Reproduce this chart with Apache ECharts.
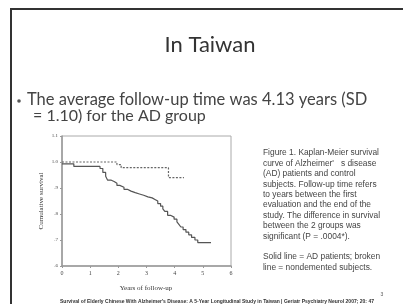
<!DOCTYPE html>
<html><head><meta charset="utf-8">
<script src="https://cdn.jsdelivr.net/npm/echarts@6/dist/echarts.min.js"></script>
<style>html,body{margin:0;padding:0;background:#fff}#c{width:403px;height:304px}</style>
</head><body><div id="c"></div>
<script>
// AD patients (solid) step times and cumulative survival
const adTimes = [0, 0.42, 1.35, 1.45, 1.55, 1.62, 1.75, 1.85, 1.95, 2.05, 2.2, 2.32, 2.45, 2.6, 2.75, 2.9, 3.05, 3.2, 3.3, 3.4, 3.5, 3.58, 3.65, 3.75, 3.85, 3.98, 4.08, 4.15, 4.22, 4.3, 4.4, 4.5, 4.6, 4.72, 4.82, 5.29];
const adSurv  = [0.993, 0.983, 0.975, 0.96, 0.945, 0.93, 0.925, 0.918, 0.91, 0.903, 0.895, 0.888, 0.882, 0.877, 0.872, 0.866, 0.862, 0.856, 0.85, 0.84, 0.83, 0.82, 0.81, 0.795, 0.788, 0.78, 0.77, 0.76, 0.75, 0.74, 0.73, 0.72, 0.71, 0.70, 0.69, 0.69];
// Nondemented subjects (broken)
const ctlTimes = [0, 1.95, 2.1, 3.78, 4.33];
const ctlSurv  = [1.0, 0.99, 0.978, 0.94, 0.94];
const yTickLabels = {'0.6': '.6', '0.7': '.7', '0.8': '.8', '0.9': '.9', '1': '1.0', '1.1': '1.1'};
const xTicks = [0, 1, 2, 3, 4, 5, 6];

const title = 'In Taiwan';
const bullet1 = 'The average follow-up time was 4.13 years (SD';
const bullet2 = '= 1.10) for the AD group';
const captionLines = [
  'Figure 1. Kaplan-Meier survival',
  "curve of Alzheimer'   s disease",
  '(AD) patients and control',
  'subjects. Follow-up time refers',
  'to years between the first',
  'evaluation and the end of the',
  'study. The difference in survival',
  'between the 2 groups was',
  'significant (P = .0004*).',
  '',
  'Solid line = AD patients; broken',
  'line = nondemented subjects.'
];
const citation = "Survival of Elderly Chinese With Alzheimer's Disease: A 5-Year Longitudinal Study in Taiwan | Geriatr Psychiatry Neurol 2007; 20: 47";

const chart = echarts.init(document.getElementById('c'), null, {renderer: 'canvas'});
const pair = (xs, ys) => xs.map((x, i) => [x, ys[i]]);

const graphics = [
  {type: 'line', shape: {x1: 11, y1: 9, x2: 403, y2: 9}, style: {stroke: '#333', lineWidth: 2}},
  {type: 'line', shape: {x1: 11, y1: 8, x2: 11, y2: 304}, style: {stroke: '#333', lineWidth: 2}},
  {type: 'text', x: 210, y: 45, style: {text: title, font: '22px Lato', fill: '#333', textAlign: 'center', textVerticalAlign: 'middle'}},
  {type: 'circle', shape: {cx: 19, cy: 101, r: 1.8}, style: {fill: '#555'}},
  {type: 'text', x: 27, y: 100, style: {text: bullet1, font: '16.5px Lato', fill: '#444', textVerticalAlign: 'middle'}},
  {type: 'text', x: 33, y: 116, style: {text: bullet2, font: '16px Lato', fill: '#444', textVerticalAlign: 'middle'}},
  {type: 'text', x: 146, y: 288, style: {text: 'Years of follow-up', font: '7px "Liberation Serif"', fill: '#333', textAlign: 'center', textVerticalAlign: 'middle'}},
  {type: 'text', x: 382, y: 295, style: {text: '3', font: '5px "Liberation Sans"', fill: '#555', textAlign: 'center', textVerticalAlign: 'middle'}},
  {type: 'text', x: 60, y: 302, style: {text: citation, font: 'bold 5px "Liberation Sans"', fill: '#333', textVerticalAlign: 'middle'}}
];
captionLines.forEach((t, i) => {
  if (t) graphics.push({type: 'text', x: 263, y: 153 + i * 10.4, style: {text: t, font: '8.4px "Liberation Sans"', fill: '#444', textVerticalAlign: 'middle'}});
});

chart.setOption({
  animation: false,
  backgroundColor: '#fff',
  grid: {left: 62, top: 136, width: 169, height: 130, show: true, borderColor: '#aaa', borderWidth: 1},
  xAxis: {
    type: 'value', min: 0, max: 6, interval: 1,
    axisLine: {lineStyle: {color: '#999', width: 1.5}},
    axisTick: {show: true, length: 2, lineStyle: {color: '#999'}},
    splitLine: {show: false},
    axisLabel: {fontSize: 6, fontFamily: 'Liberation Serif', color: '#444', margin: 4,
      formatter: v => xTicks.includes(v) ? String(v) : ''}
  },
  yAxis: {
    type: 'value', min: 0.6, max: 1.1, interval: 0.1,
    name: 'Cumulative survival', nameLocation: 'middle', nameGap: 17,
    nameTextStyle: {fontSize: 7, fontFamily: 'Liberation Serif', color: '#333'},
    axisLine: {show: true, lineStyle: {color: '#999', width: 1.5}},
    axisTick: {show: true, length: 2, lineStyle: {color: '#999'}},
    splitLine: {show: false},
    axisLabel: {fontSize: 5, fontFamily: 'Liberation Serif', color: '#444', margin: 4,
      formatter: v => yTickLabels[String(Math.round(v * 10) / 10)] || ''}
  },
  series: [
    {type: 'line', step: 'end', data: pair(adTimes, adSurv), symbol: 'none',
      lineStyle: {color: '#555', width: 1.2}},
    {type: 'line', step: 'end', data: pair(ctlTimes, ctlSurv), symbol: 'none',
      lineStyle: {color: '#666', width: 1.2, type: [2, 1.5]}}
  ],
  graphic: graphics
});
</script></body></html>
